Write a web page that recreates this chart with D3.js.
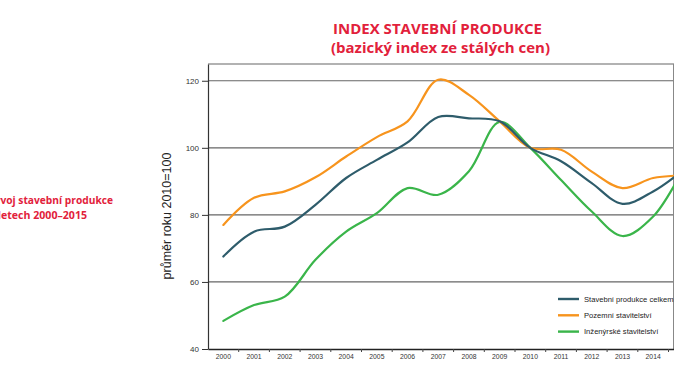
<!DOCTYPE html>
<html><head><meta charset="utf-8">
<script src="https://cdn.jsdelivr.net/npm/d3@7"></script>
<style>body{margin:0;background:#fff}svg{display:block}</style>
</head><body>
<svg id="c" width="674" height="380"></svg>
<script>
const years = [2000,2001,2002,2003,2004,2005,2006,2007,2008,2009,2010,2011,2012,2013,2014,2015];
const celkem =      [67.6,75.0,76.5,83.0,91.0,96.4,101.6,109.2,108.8,107.9,100.0,96.0,89.5,83.3,87.0,93.5];
const pozemni =     [77.0,85.1,87.0,91.2,97.4,103.2,107.9,120.3,115.8,107.9,100.0,99.4,92.9,88.0,91.0,91.8];
const inzenyrske =  [48.4,53.1,55.6,66.6,75.0,80.5,88.0,86.0,93.0,107.7,100.0,90.4,81.0,73.7,79.5,94.0];
const yTicks = [40,60,80,100,120];
const gridTicks = [60,80,100,120,125];
const seriesNames = ["Stavební produkce celkem","Pozemní stavitelství","Inženýrské stavitelství"];
const colors = ["#2e5c6b","#f7941d","#3ab54a"];
const titleLines = ["INDEX STAVEBNÍ PRODUKCE","(bazický index ze stálých cen)"];
const sideLines = ["Vývoj stavební produkce","v letech 2000–2015"];
const yTitle = "průměr roku 2010=100";

const svg = d3.select("#c");
const red = "#e2213b";
const mLeft = 208, mTop = 64, mBottom = 349, step = 30.7;

const x = d3.scaleBand().domain(years).range([mLeft, mLeft + years.length*step]).padding(0);
const y = d3.scaleLinear().domain([40,125]).range([mBottom, mTop]);
const cx = d => x(d) + x.bandwidth()/2;

// side text (cut at left, as in the reference)
svg.append("text").attr("x",-12).attr("y",204).attr("fill",red)
  .attr("font-family","Open Sans").attr("font-weight",700).attr("font-size",11)
  .attr("textLength",125).attr("lengthAdjust","spacingAndGlyphs").text(sideLines[0]);
svg.append("text").attr("x",-11).attr("y",219).attr("fill",red)
  .attr("font-family","Open Sans").attr("font-weight",700).attr("font-size",11)
  .attr("textLength",98).attr("lengthAdjust","spacingAndGlyphs").text(sideLines[1]);

// title
svg.append("text").attr("x",333).attr("y",34).attr("fill",red)
  .attr("font-family","Open Sans").attr("font-weight",700).attr("font-size",15)
  .attr("textLength",209).attr("lengthAdjust","spacingAndGlyphs").text(titleLines[0]);
svg.append("text").attr("x",331).attr("y",53).attr("fill",red)
  .attr("font-family","Open Sans").attr("font-weight",700).attr("font-size",15)
  .attr("textLength",219).attr("lengthAdjust","spacingAndGlyphs").text(titleLines[1]);

// gridlines
svg.append("g").selectAll("line").data(gridTicks).join("line")
  .attr("x1",mLeft).attr("x2",700).attr("y1",d=>y(d)).attr("y2",d=>y(d))
  .attr("stroke","#666").attr("stroke-width",1.2);
// right frame edge
svg.append("line").attr("x1",673.5).attr("x2",673.5).attr("y1",y(125)).attr("y2",mBottom)
  .attr("stroke","#888").attr("stroke-width",1);

// left axis
const ya = svg.append("g").attr("transform",`translate(${mLeft},0)`)
  .call(d3.axisLeft(y).tickValues(yTicks).tickSize(6).tickSizeOuter(0).tickPadding(3));
ya.select(".domain").attr("stroke","#333").attr("stroke-width",1.2);
ya.selectAll(".tick line").attr("stroke","#333");
ya.selectAll(".tick text").attr("font-family","Liberation Sans").attr("font-size",8).attr("fill","#333");

// bottom axis (2015 label falls outside the picture in the reference)
const xa = svg.append("g").attr("transform",`translate(0,${mBottom})`)
  .call(d3.axisBottom(x).tickValues(years.slice(0,-1)).tickSize(0).tickSizeOuter(0).tickPadding(5));
xa.select(".domain").attr("stroke","#222").attr("stroke-width",1.4);
xa.selectAll(".tick text").attr("font-family","Liberation Sans").attr("font-size",6.8).attr("fill","#333");
svg.append("g").selectAll("line").data(years.slice(1)).join("line")
  .attr("x1",d=>x(d)).attr("x2",d=>x(d)).attr("y1",mBottom).attr("y2",mBottom+3)
  .attr("stroke","#444");

// y title
svg.append("text").attr("transform","translate(171,216) rotate(-90)")
  .attr("text-anchor","middle").attr("font-family","Liberation Sans").attr("font-size",12.5)
  .attr("fill","#222").text(yTitle);

// lines
const series = [celkem, pozemni, inzenyrske];
const line = d3.line().x((d,i)=>cx(years[i])).y(d=>y(d)).curve(d3.curveCatmullRom.alpha(0.5));
[2,1,0].forEach(k=>{
  svg.append("path").datum(series[k]).attr("d",line).attr("fill","none")
    .attr("stroke",colors[k]).attr("stroke-width",2.2).attr("stroke-linecap","round");
});

// legend
const lg = svg.append("g");
seriesNames.forEach((n,i)=>{
  const yy = 299 + i*16.3;
  lg.append("line").attr("x1",558).attr("x2",579).attr("y1",yy).attr("y2",yy)
    .attr("stroke",colors[i]).attr("stroke-width",2.4);
  lg.append("text").attr("x",584).attr("y",yy).attr("dy","0.35em")
    .attr("font-family","Liberation Sans").attr("font-size",7.6).attr("fill","#222").text(n);
});
</script>
</body></html>
